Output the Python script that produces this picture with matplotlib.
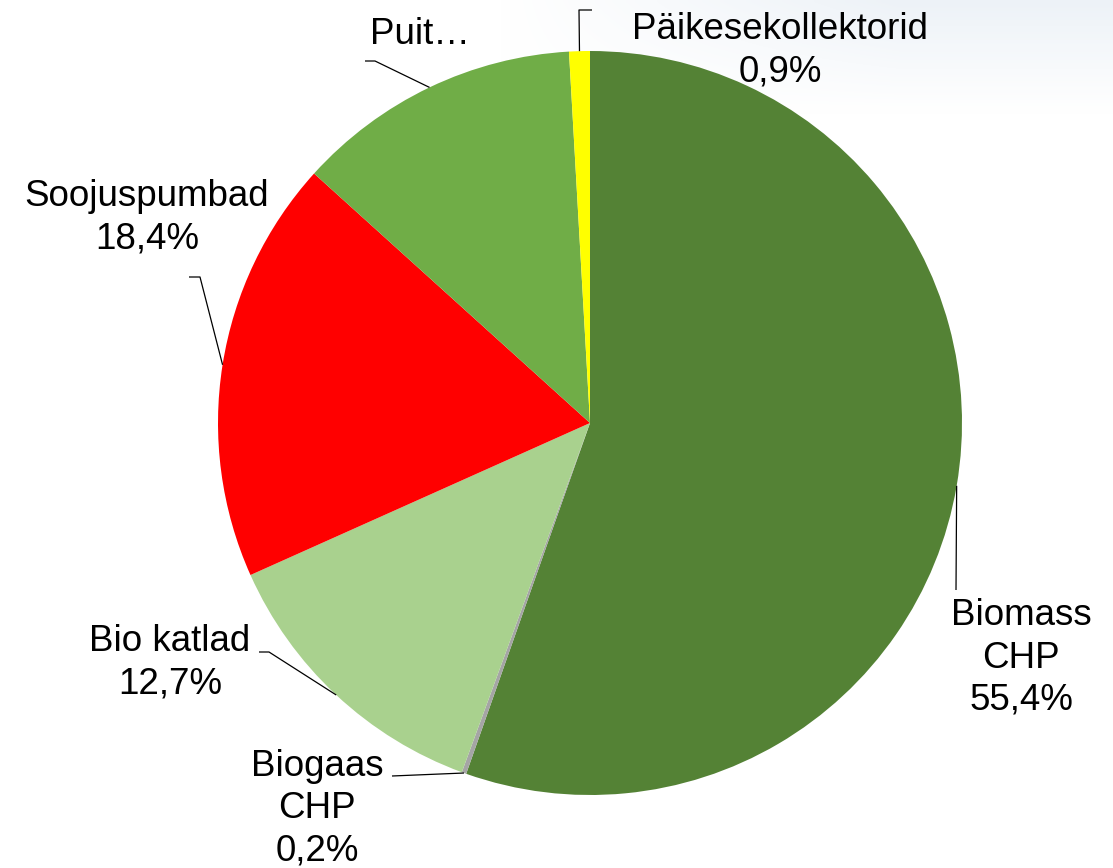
import numpy as np
import matplotlib.pyplot as plt

# Andmed (osakaalud %)
labels = ["Biomass\nCHP", "Biogaas\nCHP", "Bio katlad", "Soojuspumbad", "Puit…", "Päikesekollektorid"]
values = [55.4, 0.2, 12.7, 18.4, 12.4, 0.9]
show_pct = [True, True, True, True, False, True]
colors = ['#548235', '#a5a5a5', '#a9d18e', '#ff0000', '#70ad47', '#ffff00']

W, H = 1113, 868
CX, CY, R = 590, 423, 372   # pirukas pikslites (y ylalt alla)

# siltide asukohad ja viigujoonte murdepunktid (pikslid)
text_pos = [(1021, 658), (317, 809), (170, 663), (147, 218), (420, 34), (780, 51)]
elbows = [[(956, 590)],
          [(392, 776)],
          [(269, 652), (259, 652)],
          [(200, 277), (189, 277)],
          [(375, 61), (365, 61)],
          [(579, 10), (592, 10)]]


def py(y):
    return H - y


plt.rcParams['font.family'] = ['Liberation Sans', 'DejaVu Sans']

fig = plt.figure(figsize=(W / 100, H / 100), dpi=100)
ax = fig.add_axes([0, 0, 1, 1])

# hele taust (slaidi kujundus): sinakas riba ylal paremal
yy, xx = np.mgrid[0:H:4, 0:W:4]
fade_top = np.clip(1 - yy / 110.0, 0, 1) * np.clip((xx - 500) / 400.0, 0, 1)
bg = np.ones((yy.shape[0], yy.shape[1], 3))
tint = np.array([0.93, 0.95, 0.97])
bg = bg * (1 - fade_top[..., None]) + tint * fade_top[..., None]
ax.imshow(bg, extent=(0, W, 0, H), origin='upper', zorder=0,
          interpolation='bilinear')

ax.pie(values, colors=colors, startangle=90, counterclock=False,
       center=(CX, py(CY)), radius=R, wedgeprops=dict(linewidth=0, zorder=2))

ax.set_xlim(0, W)
ax.set_ylim(0, H)
ax.set_aspect('equal')
ax.axis('off')

# viigujooned ja sildid
total = sum(values)
cum = np.cumsum([0] + values)
for i, lab in enumerate(labels):
    mid = (cum[i] + cum[i + 1]) / 2 / total * 360   # kraadid ylalt paripaeva
    a = np.radians(mid)
    ax0 = CX + R * np.sin(a)
    ay0 = CY - R * np.cos(a)
    pts = [(ax0, ay0)] + elbows[i]
    xs = [p[0] for p in pts]
    ys = [py(p[1]) for p in pts]
    ax.plot(xs, ys, color='black', lw=0.9, solid_capstyle='butt', zorder=3)

    txt = lab
    if show_pct[i]:
        txt = lab + '\n' + f"{values[i]:.1f}%".replace('.', ',')
    tx, ty = text_pos[i]
    ax.text(tx, py(ty), txt, ha='center', va='center', fontsize=26.5,
            linespacing=1.26, multialignment='center', zorder=4)

fig.savefig('out.png', dpi=100)
